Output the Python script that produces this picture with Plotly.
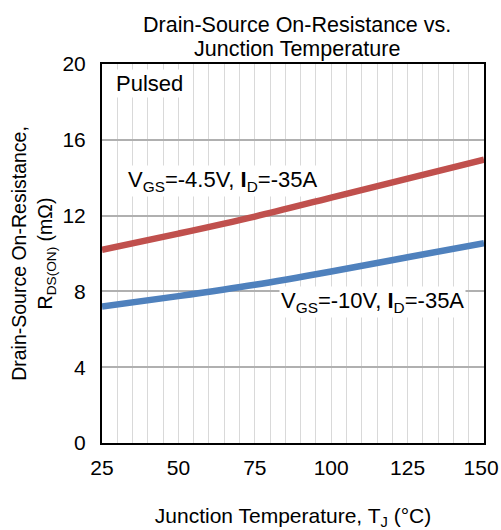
import plotly.graph_objects as go

temps = [25, 50, 75, 100, 125, 150]
rds_4v5 = [10.2, 11.05, 11.95, 12.95, 13.95, 14.95]
rds_10v = [7.2, 7.75, 8.35, 9.05, 9.8, 10.55]

x_ticks = [25, 50, 75, 100, 125, 150]
x_labels = ["25", "50", "75", "100", "125", "150\u00a0"]
y_ticks = [0, 4, 8, 12, 16, 20]

FONT = "Arial, Liberation Sans, sans-serif"
W, H = 501, 530
ML, MR, MT, MB = 102, 17, 64, 87

def px(xpix):
    return (xpix - ML) / (W - ML - MR)

def py(ypix):
    return (H - MB - ypix) / (H - MB - MT)

fig = go.Figure()
fig.add_trace(go.Scatter(x=temps, y=rds_4v5, mode="lines",
                         line=dict(color="#c0504d", width=6.5, shape="spline"),
                         showlegend=False, hoverinfo="skip"))
fig.add_trace(go.Scatter(x=temps, y=rds_10v, mode="lines",
                         line=dict(color="#4f81bd", width=6.5, shape="spline"),
                         showlegend=False, hoverinfo="skip"))

fig.update_layout(
    width=W, height=H,
    margin=dict(l=ML, r=MR, t=MT, b=MB, autoexpand=False),
    paper_bgcolor="white", plot_bgcolor="white",
    font=dict(family=FONT, color="black", size=21),
)

fig.update_xaxes(
    range=[25, 150], tickvals=x_ticks, ticktext=x_labels, ticks="", ticklabelstandoff=5,
    tickfont=dict(size=21), automargin=False, ticklabeloverflow="allow",
    showline=True, linecolor="black", linewidth=2, mirror=True,
    showgrid=True, gridcolor="#d9d9d9", gridwidth=1,
    minor=dict(dtick=5, tick0=25, showgrid=True, gridcolor="#d9d9d9", gridwidth=1),
    zeroline=False,
    title=dict(text="Junction Temperature, T<sub>J</sub> (°C)", font=dict(size=21), standoff=31),
)
fig.update_yaxes(
    range=[0, 20], tickvals=y_ticks, ticks="", ticklabelstandoff=10,
    tickfont=dict(size=21), automargin=False, ticklabeloverflow="allow",
    showline=True, linecolor="black", linewidth=2, mirror=True,
    showgrid=True, gridcolor="#b0b0b0", gridwidth=1.5,
    zeroline=False,
    title=dict(text="Drain-Source On-Resistance,<br>R<sub>DS(ON)</sub> (mΩ)",
               font=dict(size=19.5), standoff=5),
)

# chart title (two lines)
fig.add_annotation(x=px(297), y=py(25), xref="paper", yref="paper",
                   xanchor="center", yanchor="middle",
                   text="Drain-Source On-Resistance vs.",
                   showarrow=False, font=dict(size=21.5))
fig.add_annotation(x=px(297), y=py(49), xref="paper", yref="paper",
                   xanchor="center", yanchor="middle",
                   text="Junction Temperature",
                   showarrow=False, font=dict(size=21.5))

fig.add_annotation(x=px(114), y=py(83), xref="paper", yref="paper", xanchor="left", yanchor="middle",
                   text="Pulsed", showarrow=False, bgcolor="white", font=dict(size=22))
fig.add_annotation(x=px(126), y=py(181), xref="paper", yref="paper",
                   xanchor="left", yanchor="middle",
                   text="V<sub>GS</sub>=-4.5V, <b>I</b><sub>D</sub>=-35A",
                   showarrow=False, bgcolor="white", font=dict(size=22))
fig.add_annotation(x=px(279), y=py(302), xref="paper", yref="paper",
                   xanchor="left", yanchor="middle",
                   text="V<sub>GS</sub>=-10V, <b>I</b><sub>D</sub>=-35A",
                   showarrow=False, bgcolor="white", font=dict(size=22))

fig.write_html(
    "out.html",
    config={"displayModeBar": False},
    post_script="document.body.style.margin='0';document.body.style.overflow='hidden';",
)
